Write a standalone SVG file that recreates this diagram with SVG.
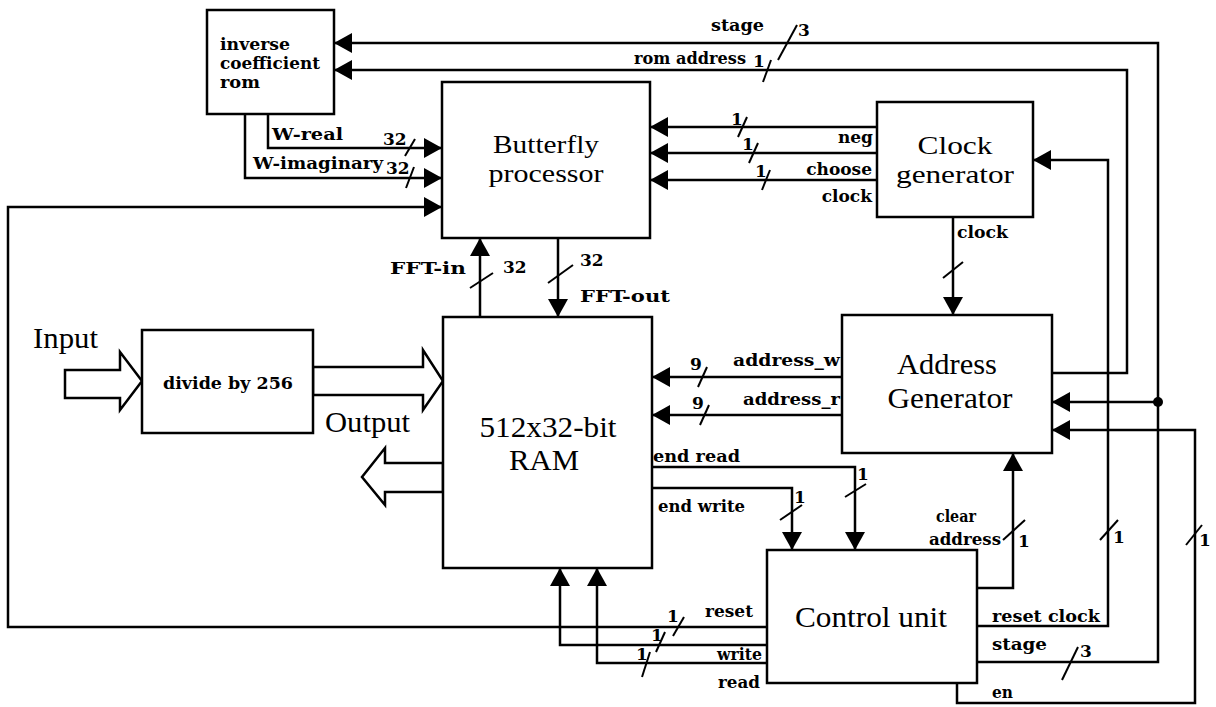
<svg xmlns="http://www.w3.org/2000/svg" width="1216" height="707" viewBox="0 0 1216 707">
<defs>
<marker id="ah" markerWidth="18" markerHeight="20" refX="18" refY="10" orient="auto" markerUnits="userSpaceOnUse">
<path d="M0,0 L18,10 L0,20 z" fill="#000"/>
</marker>
<style>
.box{fill:#fff;stroke:#000;stroke-width:2.5}
.ln{fill:none;stroke:#000;stroke-width:2.5}
.arr{fill:none;stroke:#000;stroke-width:2.5;marker-end:url(#ah)}
.sl{stroke:#000;stroke-width:2}
.big{font-family:'Liberation Serif','Times New Roman',serif;font-size:30px;fill:#000}
.mid{font-family:'Liberation Serif','Times New Roman',serif;font-size:25px;fill:#000}
.sm{font-family:'DejaVu Serif','Liberation Serif',serif;font-weight:bold;font-size:17px;fill:#000}
.hol{fill:#fff;stroke:#000;stroke-width:2.5;stroke-linejoin:miter}
</style>
</defs>
<rect width="1216" height="707" fill="#fff"/>

<g id="connectors">
<polyline class="arr" points="977,662 1158,662 1158,43 334,43"/>
<polyline class="arr" points="1158,402 1052,402"/>
<circle cx="1158" cy="402" r="5" fill="#000"/>
<polyline class="arr" points="1052,373 1127,373 1127,70 334,70"/>
<polyline class="arr" points="268,114 268,148 442,148"/>
<polyline class="arr" points="245,114 245,178 442,178"/>
<polyline class="arr" points="767,627 8,627 8,207 442,207"/>
<polyline class="arr" points="877,127 650,127"/>
<polyline class="arr" points="877,153 650,153"/>
<polyline class="arr" points="877,180 650,180"/>
<polyline class="arr" points="953,217 953,315"/>
<polyline class="arr" points="480,317 480,238"/>
<polyline class="arr" points="558,238 558,317"/>
<polyline class="arr" points="842,377 652,377"/>
<polyline class="arr" points="842,415 652,415"/>
<polyline class="arr" points="652,467 855,467 855,550"/>
<polyline class="arr" points="652,488 792,488 792,550"/>
<polyline class="arr" points="977,588 1013,588 1013,453"/>
<polyline class="arr" points="977,626 1108,626 1108,160 1033,160"/>
<polyline class="arr" points="957,683 957,703 1195,703 1195,430 1052,430"/>
<polyline class="arr" points="767,645 560,645 560,568"/>
<polyline class="arr" points="767,663 597,663 597,568"/>

<polygon class="hol" points="65,370 120,370 120,352 142,381 120,410 120,398 65,398"/>
<polygon class="hol" points="313,367 423,367 423,350 443,381 423,410 423,395 313,395"/>
<polygon class="hol" points="443,463 385,463 385,448 362,477 385,505 385,492 443,492"/>

<line class="sl" x1="405" y1="156" x2="415" y2="139"/>
<line class="sl" x1="406" y1="188" x2="414" y2="167"/>
<line class="sl" x1="738" y1="137" x2="747" y2="117"/>
<line class="sl" x1="749" y1="163" x2="758" y2="143"/>
<line class="sl" x1="762" y1="190" x2="770" y2="170"/>
<line class="sl" x1="763" y1="82" x2="771" y2="60"/>
<line class="sl" x1="778" y1="60" x2="797" y2="25"/>
<line class="sl" x1="943" y1="278" x2="963" y2="262"/>
<line class="sl" x1="470" y1="288" x2="493" y2="273"/>
<line class="sl" x1="548" y1="283" x2="573" y2="265"/>
<line class="sl" x1="698" y1="387" x2="707" y2="367"/>
<line class="sl" x1="700" y1="425" x2="709" y2="405"/>
<line class="sl" x1="845" y1="497" x2="866" y2="484"/>
<line class="sl" x1="780" y1="520" x2="802" y2="505"/>
<line class="sl" x1="1003" y1="540" x2="1025" y2="520"/>
<line class="sl" x1="1100" y1="540" x2="1118" y2="520"/>
<line class="sl" x1="1186" y1="545" x2="1202" y2="525"/>
<line class="sl" x1="1062" y1="680" x2="1078" y2="647"/>
<line class="sl" x1="673" y1="636" x2="684" y2="617"/>
<line class="sl" x1="656" y1="652" x2="665" y2="632"/>
<line class="sl" x1="642" y1="677" x2="650" y2="652"/>

<text class="sm" x="272" y="140" textLength="71" lengthAdjust="spacingAndGlyphs">W-real</text>
<text class="sm" x="253" y="169" textLength="130" lengthAdjust="spacingAndGlyphs">W-imaginary</text>
<text class="sm" x="383" y="145">32</text>
<text class="sm" x="386" y="174">32</text>
<text class="sm" x="711" y="31" textLength="53" lengthAdjust="spacingAndGlyphs">stage</text>
<text class="sm" x="798" y="36">3</text>
<text class="sm" x="634" y="64" textLength="112" lengthAdjust="spacingAndGlyphs">rom address</text>
<text class="sm" x="753" y="67">1</text>
<text class="sm" x="873" y="143" text-anchor="end">neg</text>
<text class="sm" x="872" y="175" text-anchor="end">choose</text>
<text class="sm" x="872" y="202" text-anchor="end">clock</text>
<text class="sm" x="731" y="125">1</text>
<text class="sm" x="742" y="150">1</text>
<text class="sm" x="755" y="177">1</text>
<text class="sm" x="957" y="238" textLength="51" lengthAdjust="spacingAndGlyphs">clock</text>
<text class="sm" x="390" y="274" textLength="76" lengthAdjust="spacingAndGlyphs">FFT-in</text>
<text class="sm" x="503" y="273">32</text>
<text class="sm" x="580" y="266">32</text>
<text class="sm" x="580" y="302" textLength="90" lengthAdjust="spacingAndGlyphs">FFT-out</text>
<text class="sm" x="690" y="370">9</text>
<text class="sm" x="692" y="409">9</text>
<text class="sm" x="733" y="366" textLength="107" lengthAdjust="spacingAndGlyphs">address_w</text>
<text class="sm" x="743" y="405" textLength="97" lengthAdjust="spacingAndGlyphs">address_r</text>
<text class="sm" x="653" y="462" textLength="87" lengthAdjust="spacingAndGlyphs">end read</text>
<text class="sm" x="658" y="512" textLength="87" lengthAdjust="spacingAndGlyphs">end write</text>
<text class="sm" x="857" y="480">1</text>
<text class="sm" x="794" y="503">1</text>
<text class="sm" x="936" y="522" textLength="40" lengthAdjust="spacingAndGlyphs">clear</text>
<text class="sm" x="929" y="545" textLength="72" lengthAdjust="spacingAndGlyphs">address</text>
<text class="sm" x="1018" y="547">1</text>
<text class="sm" x="1113" y="543">1</text>
<text class="sm" x="1199" y="546">1</text>
<text class="sm" x="992" y="622" textLength="108" lengthAdjust="spacingAndGlyphs">reset clock</text>
<text class="sm" x="992" y="650" textLength="55" lengthAdjust="spacingAndGlyphs">stage</text>
<text class="sm" x="1080" y="657">3</text>
<text class="sm" x="992" y="698" textLength="21" lengthAdjust="spacingAndGlyphs">en</text>
<text class="sm" x="705" y="617" textLength="48" lengthAdjust="spacingAndGlyphs">reset</text>
<text class="sm" x="717" y="660" textLength="45" lengthAdjust="spacingAndGlyphs">write</text>
<text class="sm" x="718" y="688" textLength="42" lengthAdjust="spacingAndGlyphs">read</text>
<text class="sm" x="667" y="622">1</text>
<text class="sm" x="651" y="641">1</text>
<text class="sm" x="636" y="660">1</text>
<text class="big" x="33" y="348" textLength="65" lengthAdjust="spacingAndGlyphs">Input</text>
<text class="big" x="325" y="432" textLength="85" lengthAdjust="spacingAndGlyphs">Output</text>
</g>

<g id="rom">
<rect class="box" x="207" y="10" width="127" height="104"/>
<text class="sm" x="220" y="50" textLength="70" lengthAdjust="spacingAndGlyphs">inverse</text>
<text class="sm" x="220" y="69" textLength="100" lengthAdjust="spacingAndGlyphs">coefficient</text>
<text class="sm" x="220" y="88" textLength="40" lengthAdjust="spacingAndGlyphs">rom</text>
</g>

<g id="butterfly">
<rect class="box" x="442" y="82" width="208" height="156"/>
<text class="mid" x="546" y="153" text-anchor="middle" textLength="106" lengthAdjust="spacingAndGlyphs">Butterfly</text>
<text class="mid" x="546" y="182" text-anchor="middle" textLength="115" lengthAdjust="spacingAndGlyphs">processor</text>
</g>

<g id="clockgen">
<rect class="box" x="877" y="102" width="156" height="115"/>
<text class="mid" x="955" y="154" text-anchor="middle" textLength="75" lengthAdjust="spacingAndGlyphs">Clock</text>
<text class="mid" x="955" y="183" text-anchor="middle" textLength="118" lengthAdjust="spacingAndGlyphs">generator</text>
</g>

<g id="divider">
<rect class="box" x="142" y="330" width="171" height="103"/>
<text class="sm" x="163" y="389" textLength="130" lengthAdjust="spacingAndGlyphs">divide by 256</text>
</g>

<g id="ram">
<rect class="box" x="443" y="317" width="209" height="251"/>
<text class="big" x="548" y="437" text-anchor="middle" textLength="137" lengthAdjust="spacingAndGlyphs">512x32-bit</text>
<text class="big" x="544" y="470" text-anchor="middle" textLength="70" lengthAdjust="spacingAndGlyphs">RAM</text>
</g>

<g id="addrgen">
<rect class="box" x="842" y="315" width="210" height="138"/>
<text class="big" x="947" y="374" text-anchor="middle" textLength="100" lengthAdjust="spacingAndGlyphs">Address</text>
<text class="big" x="950" y="408" text-anchor="middle" textLength="125" lengthAdjust="spacingAndGlyphs">Generator</text>
</g>

<g id="control">
<rect class="box" x="767" y="550" width="210" height="133"/>
<text class="big" x="795" y="627" textLength="152" lengthAdjust="spacingAndGlyphs">Control unit</text>
</g>
</svg>
